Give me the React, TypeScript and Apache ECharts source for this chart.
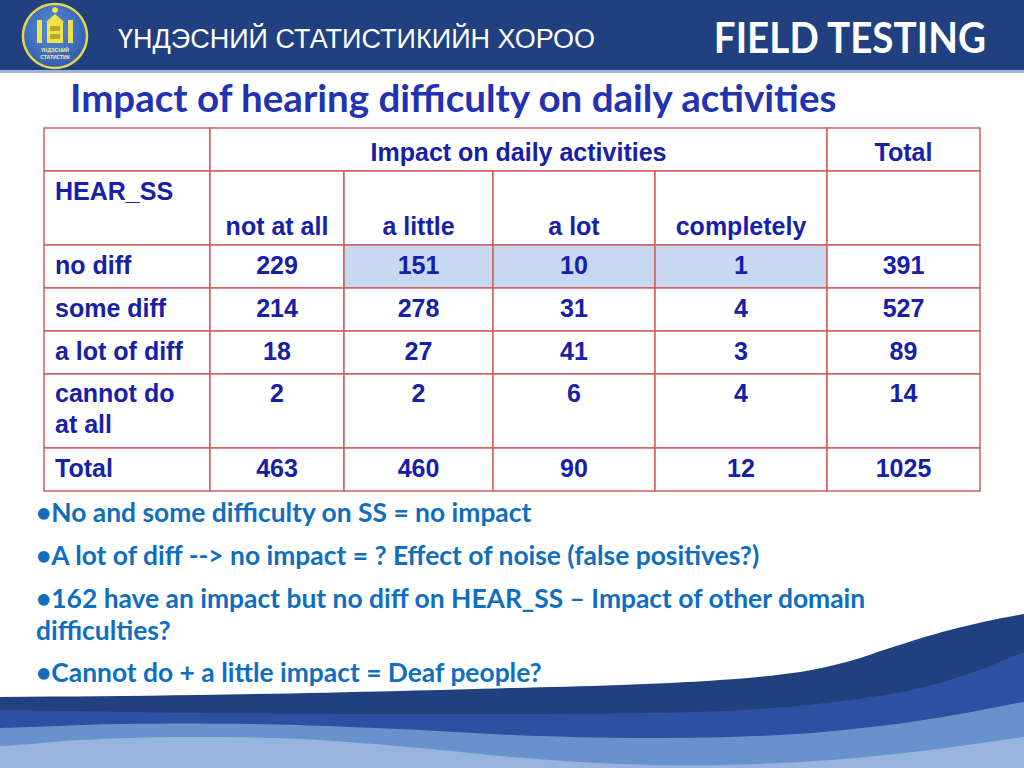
import React, { useEffect, useRef } from "react";
import * as echarts from "echarts";

// ---------- content ----------
const orgName = "ҮНДЭСНИЙ СТАТИСТИКИЙН ХОРОО";
const logoLines = ["ҮНДЭСНИЙ", "СТАТИСТИК"];
const sectionLabel = "FIELD TESTING";
const slideTitle = "Impact of hearing difficulty on daily activities";
const impactHeader = "Impact on daily activities";
const totalLabel = "Total";
const rowHeader = "HEAR_SS";
const impactCategories = ["not at all", "a little", "a lot", "completely"];
const hearingCategories = ["no diff", "some diff", "a lot of diff", "cannot do\nat all"];
const counts = [
  [229, 151, 10, 1],
  [214, 278, 31, 4],
  [18, 27, 41, 3],
  [2, 2, 6, 4],
];
const rowTotals = [391, 527, 89, 14];
const columnTotals = [463, 460, 90, 12];
const grandTotal = 1025;
const notes = [
  ["•No and some difficulty on SS = no impact"],
  ["•A lot of diff --> no impact = ? Effect of noise (false positives?)"],
  ["•162 have an impact but no diff on HEAR_SS – Impact of other domain", "difficulties?"],
  ["•Cannot do + a little impact = Deaf people?"],
];
// [row, count column] of the shaded cells
const highlightedCells = [
  [0, 1],
  [0, 2],
  [0, 3],
];

// ---------- layout ----------
const COL_X = [44, 210, 344, 493, 655, 827, 980];
const ROW_Y = [128, 171, 245, 288, 331, 374, 448, 491];
const NOTE_Y = [512, 555, 598, 672];
const NOTE_LINE = 32;
const TABLE_TEXT = "#1620a8";
const BORDER = "#d0605e";
const HILITE = "#c6d9f1";
const TABLE_FONT = "bold 25px 'Liberation Sans', Arial, sans-serif";
const LINE_H = 31;

type Cell = {
  x0: number;
  x1: number;
  y0: number;
  y1: number;
  text: string;
  align: "left" | "center";
  ty: number;
  fill: string;
};

function buildCells(): Cell[] {
  const cells: Cell[] = [];
  const mk = (c0: number, c1: number, r: number, text: string, align: "left" | "center", ty: number, fill = "#ffffff") =>
    cells.push({ x0: COL_X[c0], x1: COL_X[c1], y0: ROW_Y[r], y1: ROW_Y[r + 1], text, align, ty, fill });
  mk(0, 1, 0, "", "left", 152);
  mk(1, 5, 0, impactHeader, "center", 152);
  mk(5, 6, 0, totalLabel, "center", 152);
  mk(0, 1, 1, rowHeader, "left", 191);
  impactCategories.forEach((c, j) => mk(j + 1, j + 2, 1, c, "center", 226));
  mk(5, 6, 1, "", "center", 226);
  hearingCategories.forEach((label, i) => {
    const r = i + 2;
    const ty = i === 3 ? ROW_Y[r] + 19 : (ROW_Y[r] + ROW_Y[r + 1]) / 2 - 1.5;
    mk(0, 1, r, label, "left", ty);
    counts[i].forEach((v, j) => {
      const hi = highlightedCells.some(([a, b]) => a === i && b === j);
      mk(j + 1, j + 2, r, String(v), "center", ty, hi ? HILITE : "#ffffff");
    });
    mk(5, 6, r, String(rowTotals[i]), "center", ty);
  });
  const tr = 6;
  const tty = (ROW_Y[tr] + ROW_Y[tr + 1]) / 2 - 2;
  mk(0, 1, tr, totalLabel, "left", tty);
  columnTotals.forEach((v, j) => mk(j + 1, j + 2, tr, String(v), "center", tty));
  mk(5, 6, tr, String(grandTotal), "center", tty);
  return cells;
}

function wave(points: number[][], color: string) {
  const pts = [[-60, points[0][1]], ...points, [1084, points[points.length - 1][1] - 8], [1084, 820], [-60, 820]];
  return {
    type: "polygon",
    silent: true,
    z: 1,
    shape: { points: pts, smooth: 0.35 },
    style: { fill: color },
  };
}

function txt(text: string, x: number, y: number, font: string, fill: string, align = "left", extra: any = {}) {
  return {
    type: "text",
    x,
    y,
    z: 10,
    silent: true,
    style: {
      text,
      font,
      fill,
      align,
      textAlign: align,
      verticalAlign: "middle",
      textVerticalAlign: "middle",
      ...extra,
    },
  };
}

export default function App() {
  const ref = useRef<HTMLDivElement>(null);

  useEffect(() => {
    if (!ref.current) return;
    const chart = echarts.init(ref.current, undefined, { renderer: "svg" });
    const cells = buildCells();

    const noteTexts: any[] = [];
    notes.forEach((lines, i) => {
      lines.forEach((line, k) => {
        noteTexts.push(
          txt(line, 36, NOTE_Y[i] + k * NOTE_LINE, "bold 26.4px Lato, 'Open Sans', sans-serif", "#0f6ebf", "left")
        );
      });
    });

    const fieldLabel: any = txt(sectionLabel, 986, 37, "bold 42px Lato, 'Open Sans', sans-serif", "#ffffff", "right");
    fieldLabel.scaleX = 0.92;

    const graphics: any[] = [
      { type: "rect", z: 0, silent: true, shape: { x: 0, y: 0, width: 1024, height: 768 }, style: { fill: "#ffffff" } },
      wave([[0, 697], [200, 695], [400, 691], [512, 688], [620, 685], [720, 680], [800, 672], [850, 661], [890, 648], [950, 630], [1024, 614]], "#21407f"),
      wave([[0, 710], [200, 713], [400, 714], [512, 714], [650, 713], [760, 709], [850, 700], [920, 688], [980, 670], [1024, 653]], "#2d50a2"),
      wave([[0, 728], [120, 724], [250, 724], [400, 729], [512, 735], [650, 738], [780, 735], [880, 726], [960, 714], [1024, 702]], "#6991cc"),
      wave([[0, 746], [80, 740], [180, 737], [300, 739], [420, 748], [512, 757], [620, 764], [720, 765], [830, 760], [930, 750], [1024, 737]], "#97b3df"),
      { type: "rect", z: 2, silent: true, shape: { x: 0, y: 0, width: 1024, height: 70 }, style: { fill: "#21407f" } },
      { type: "rect", z: 2, silent: true, shape: { x: 0, y: 70, width: 1024, height: 3 }, style: { fill: "#9fb3d3" } },
      {
        type: "circle",
        z: 3,
        silent: true,
        shape: { cx: 55, cy: 36, r: 32 },
        style: {
          fill: new echarts.graphic.RadialGradient(0.45, 0.4, 0.7, [
            { offset: 0, color: "#5a8fdc" },
            { offset: 1, color: "#2a55a8" },
          ]),
          stroke: "#e4d74c",
          lineWidth: 2.5,
        },
      },
      { type: "circle", z: 4, silent: true, shape: { cx: 55, cy: 10, r: 3 }, style: { fill: "#f2e34a" } },
      { type: "polygon", z: 4, silent: true, shape: { points: [[46, 22], [55, 14], [64, 22]] }, style: { fill: "#f2e34a" } },
      { type: "rect", z: 4, silent: true, shape: { x: 47, y: 22, width: 16, height: 21 }, style: { fill: "#f2e34a" } },
      { type: "rect", z: 5, silent: true, shape: { x: 50, y: 26, width: 10, height: 5 }, style: { fill: "#b9a530" } },
      { type: "rect", z: 5, silent: true, shape: { x: 50, y: 34, width: 10, height: 5 }, style: { fill: "#b9a530" } },
      { type: "rect", z: 4, silent: true, shape: { x: 37, y: 20, width: 5, height: 23 }, style: { fill: "#f2e34a" } },
      { type: "rect", z: 4, silent: true, shape: { x: 68, y: 20, width: 5, height: 23 }, style: { fill: "#f2e34a" } },
      txt(logoLines[0], 55, 50, "bold 5px 'Liberation Sans', sans-serif", "#f5ec9a", "center"),
      txt(logoLines[1], 55, 57, "bold 5px 'Liberation Sans', sans-serif", "#f5ec9a", "center"),
      txt(orgName, 118, 39, "27px 'Liberation Sans', Arial, sans-serif", "#ffffff", "left"),
      fieldLabel,
      txt(slideTitle, 70, 97, "bold 38.5px Lato, 'Open Sans', sans-serif", "#2232b0", "left"),
      ...noteTexts,
    ];

    chart.setOption({
      animation: false,
      backgroundColor: "#ffffff",
      graphic: graphics,
      series: [
        {
          type: "custom",
          coordinateSystem: "none",
          silent: true,
          z: 5,
          data: cells.map((_, i) => i),
          renderItem: (params: any) => {
            const c = cells[params.dataIndex];
            const tx = c.align === "left" ? c.x0 + 11 : (c.x0 + c.x1) / 2;
            return {
              type: "group",
              children: [
                {
                  type: "rect",
                  shape: { x: c.x0, y: c.y0, width: c.x1 - c.x0, height: c.y1 - c.y0 },
                  style: { fill: c.fill, stroke: BORDER, lineWidth: 1.5 },
                },
                {
                  type: "text",
                  x: tx,
                  y: c.ty - LINE_H / 2,
                  style: {
                    text: c.text,
                    font: TABLE_FONT,
                    fill: TABLE_TEXT,
                    align: c.align,
                    textAlign: c.align,
                    verticalAlign: "top",
                    textVerticalAlign: "top",
                    lineHeight: LINE_H,
                  },
                },
              ],
            };
          },
        },
      ],
    });

    return () => chart.dispose();
  }, []);

  return (
    <div
      ref={ref}
      style={{ position: "fixed", left: 0, top: 0, width: 1024, height: 768, background: "#ffffff" }}
    />
  );
}
